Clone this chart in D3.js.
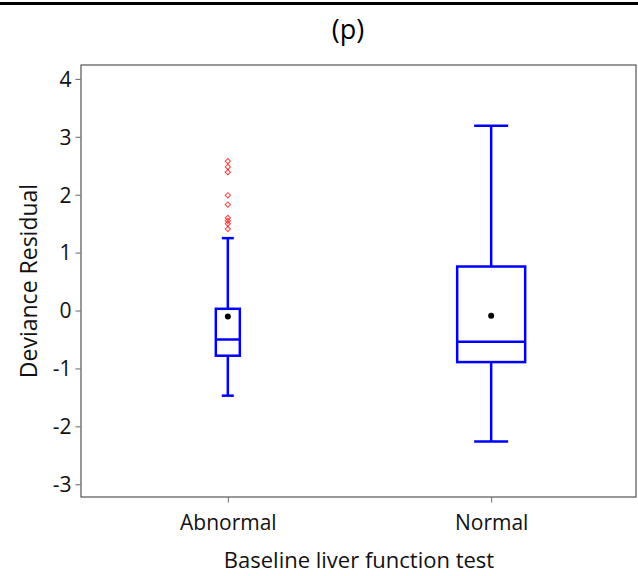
<!DOCTYPE html>
<html>
<head>
<meta charset="utf-8">
<script src="https://cdn.jsdelivr.net/npm/d3@7.9.0/dist/d3.min.js"></script>
<style>
  body { margin: 0; background: #fff; }
  svg { display: block; font-family: "Open Sans", "Noto Sans", sans-serif; }
</style>
</head>
<body>
<div id="chart"></div>
<script>
// --- Data ---
const categories = ['Abnormal', 'Normal'];
const q1 = [-0.78, -0.89];
const median = [-0.50, -0.54];
const q3 = [0.03, 0.76];
const mean = [-0.105, -0.09];
const whiskerLow = [-1.47, -2.26];
const whiskerHigh = [1.25, 3.19];
const outliers = [
  [2.58, 2.48, 2.39, 1.99, 1.83, 1.60, 1.55, 1.50, 1.41],
  []
];
const yTicks = [-3, -2, -1, 0, 1, 2, 3, 4];

const width = 638;
const height = 576;
const plot = { left: 81, right: 636, top: 65, bottom: 497 };

const svg = d3.select('#chart')
  .append('svg')
  .attr('width', width)
  .attr('height', height);

// heavy rule along the top
svg.append('line')
  .attr('x1', 0).attr('x2', width)
  .attr('y1', 3.5).attr('y2', 3.5)
  .attr('stroke', '#000')
  .attr('stroke-width', 3);

svg.append('text')
  .attr('x', 348).attr('y', 39)
  .attr('text-anchor', 'middle')
  .attr('font-size', 27)
  .text('(p)');

// scales
const xScale = d3.scalePoint()
  .domain(categories)
  .range([plot.left + 2, plot.right])
  .padding(0.55);

const yScale = d3.scaleLinear()
  .domain([-3.22, 4.24])
  .range([plot.bottom, plot.top]);

// relative box widths (variable-width boxes)
const boxWidth = d3.scaleOrdinal().domain(categories).range([24, 68]);

// frame
svg.append('rect')
  .attr('x', plot.left).attr('y', plot.top)
  .attr('width', plot.right - plot.left)
  .attr('height', plot.bottom - plot.top)
  .attr('fill', 'none')
  .attr('stroke', '#333')
  .attr('stroke-width', 1);

// axes
const yAxis = d3.axisLeft(yScale)
  .tickValues(yTicks)
  .tickFormat((d) => String(d))
  .tickSize(5)
  .tickPadding(4);
const xAxis = d3.axisBottom(xScale).tickSize(5).tickPadding(13);

const gy = svg.append('g')
  .attr('transform', `translate(${plot.left - 0.5}, 0)`)
  .call(yAxis);
const gx = svg.append('g')
  .attr('transform', `translate(0, ${plot.bottom + 0.5})`)
  .call(xAxis);

[gy, gx].forEach((g) => {
  g.select('.domain').remove();
  g.selectAll('.tick line').attr('stroke', '#666');
  g.selectAll('.tick text')
    .attr('fill', '#111')
    .attr('font-size', 21)
    .attr('font-family', '"Open Sans", sans-serif');
});
gy.selectAll('.tick text').attr('dy', '0.35em');

// axis labels
svg.append('text')
  .attr('transform', `translate(37, ${(plot.top + plot.bottom) / 2}) rotate(-90)`)
  .attr('text-anchor', 'middle')
  .attr('font-size', 23)
  .attr('fill', '#111')
  .text('Deviance Residual');

svg.append('text')
  .attr('x', 359)
  .attr('y', 568)
  .attr('text-anchor', 'middle')
  .attr('font-size', 22)
  .attr('fill', '#111')
  .text('Baseline liver function test');

// boxes
const blue = '#0000ff';
const groups = svg.append('g')
  .selectAll('g')
  .data(categories)
  .join('g');

groups.each(function (cat, i) {
  const g = d3.select(this);
  const cx = xScale(cat);
  const w = boxWidth(cat);

  // whiskers
  g.append('line')
    .attr('x1', cx).attr('x2', cx)
    .attr('y1', yScale(q3[i])).attr('y2', yScale(whiskerHigh[i]))
    .attr('stroke', blue).attr('stroke-width', 2.5);
  g.append('line')
    .attr('x1', cx).attr('x2', cx)
    .attr('y1', yScale(q1[i])).attr('y2', yScale(whiskerLow[i]))
    .attr('stroke', blue).attr('stroke-width', 2.5);

  // caps
  [whiskerHigh[i], whiskerLow[i]].forEach((v) => {
    g.append('line')
      .attr('x1', cx - w / 4).attr('x2', cx + w / 4)
      .attr('y1', yScale(v)).attr('y2', yScale(v))
      .attr('stroke', blue).attr('stroke-width', 2.5);
  });

  // box
  g.append('rect')
    .attr('x', cx - w / 2)
    .attr('y', yScale(q3[i]))
    .attr('width', w)
    .attr('height', yScale(q1[i]) - yScale(q3[i]))
    .attr('fill', 'none')
    .attr('stroke', blue)
    .attr('stroke-width', 2.5);

  // median
  g.append('line')
    .attr('x1', cx - w / 2).attr('x2', cx + w / 2)
    .attr('y1', yScale(median[i])).attr('y2', yScale(median[i]))
    .attr('stroke', blue).attr('stroke-width', 2.5);

  // mean
  g.append('circle')
    .attr('cx', cx).attr('cy', yScale(mean[i]))
    .attr('r', 3)
    .attr('fill', '#000');

  // outliers as small open diamonds
  const diamond = d3.symbol(d3.symbolSquare, 14);
  g.selectAll('path.outlier')
    .data(outliers[i])
    .join('path')
    .attr('class', 'outlier')
    .attr('d', diamond)
    .attr('transform', (d) => `translate(${cx}, ${yScale(d)}) rotate(45)`)
    .attr('fill', 'none')
    .attr('stroke', '#ff0000')
    .attr('stroke-opacity', 0.75)
    .attr('stroke-width', 1);
});
</script>
</body>
</html>
